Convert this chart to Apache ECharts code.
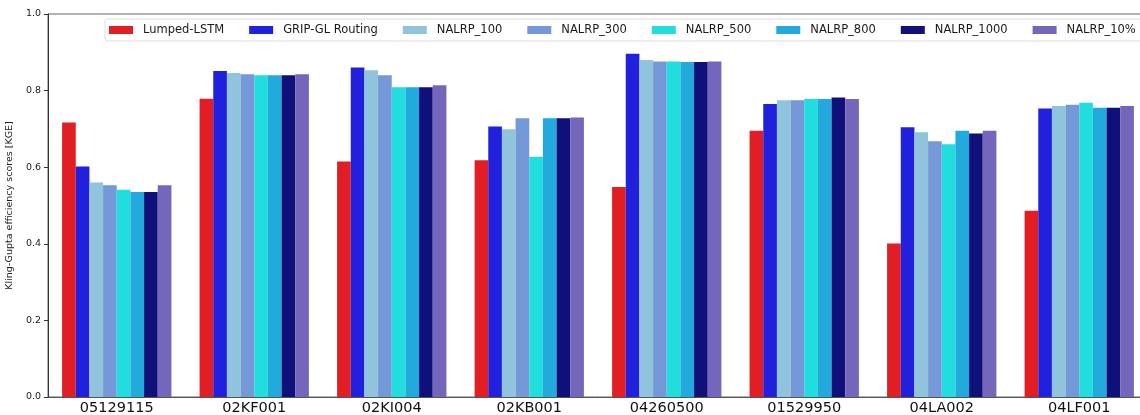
<!DOCTYPE html>
<html>
<head>
<meta charset="utf-8">
<script src="https://cdn.jsdelivr.net/npm/echarts@6/dist/echarts.min.js"></script>
<style>
html,body{margin:0;padding:0;background:#fff;}
#chart{width:1140px;height:415px;}
</style>
</head>
<body>
<div id="chart"></div>
<script>
var categories = ['05129115','02KF001','02KI004','02KB001','04260500','01529950','04LA002','04LF001'];
var seriesNames = ['Lumped-LSTM','GRIP-GL Routing','NALRP_100','NALRP_300','NALRP_500','NALRP_800','NALRP_1000','NALRP_10%'];
var lumpedLSTM = [0.717, 0.779, 0.615, 0.618, 0.548, 0.695, 0.401, 0.486];
var gripGL     = [0.602, 0.851, 0.860, 0.706, 0.896, 0.765, 0.704, 0.753];
var nalrp100   = [0.560, 0.846, 0.853, 0.699, 0.880, 0.775, 0.691, 0.760];
var nalrp300   = [0.553, 0.843, 0.840, 0.728, 0.876, 0.775, 0.668, 0.763];
var nalrp500   = [0.541, 0.840, 0.809, 0.627, 0.876, 0.778, 0.660, 0.768];
var nalrp800   = [0.535, 0.840, 0.809, 0.728, 0.875, 0.778, 0.695, 0.755];
var nalrp1000  = [0.535, 0.840, 0.809, 0.728, 0.875, 0.782, 0.688, 0.755];
var nalrp10pct = [0.553, 0.843, 0.814, 0.730, 0.876, 0.778, 0.695, 0.760];
var yTicks = [0.0, 0.2, 0.4, 0.6, 0.8, 1.0];

var allValues = [lumpedLSTM, gripGL, nalrp100, nalrp300, nalrp500, nalrp800, nalrp1000, nalrp10pct];
var colors = ['#e01e24','#2121dd','#90c4dc','#7598d8','#22dddd','#22aadd','#10107a','#7466bb'];
var font = 'DejaVu Sans';

var series = seriesNames.map(function(n, i){
  return {
    name: n,
    type: 'bar',
    data: allValues[i],
    itemStyle: {color: colors[i]},
    barGap: '0%',
    barCategoryGap: '20.5%',
    animation: false
  };
});

var chart = echarts.init(document.getElementById('chart'), null, {renderer:'canvas'});
chart.setOption({
  animation: false,
  color: colors,
  textStyle: {fontFamily: font},
  grid: {left: 48, top: 14, width: 1100, bottom: 18, show: true, borderColor: '#666', borderWidth: 1,
         backgroundColor: 'transparent', containLabel: false, outerBoundsMode: 'none'},
  legend: {
    data: seriesNames,
    left: 105, top: 19, width: 1100,
    itemWidth: 24, itemHeight: 8, itemGap: 25,
    padding: [5, 12, 5, 4],
    backgroundColor: '#fff',
    borderColor: '#dddddd', borderWidth: 1, borderRadius: 2,
    icon: 'rect',
    textStyle: {fontFamily: font, fontSize: 11.5, color: '#1a1a1a', padding: [0,0,0,5]}
  },
  xAxis: {
    type: 'category',
    data: categories,
    axisLine: {lineStyle: {color: '#555', width: 1}},
    axisTick: {alignWithLabel: true, length: 4, lineStyle: {color: '#555'}},
    axisLabel: {fontFamily: font, fontSize: 14.5, color: '#111', margin: 4}
  },
  yAxis: {
    type: 'value',
    min: 0, max: 1, interval: 0.2,
    name: 'Kling-Gupta efficiency scores [KGE]',
    nameLocation: 'middle', nameRotate: 90, nameGap: 33,
    nameTextStyle: {fontFamily: font, fontSize: 9.5, color: '#1a1a1a'},
    axisLine: {show: true, lineStyle: {color: '#333', width: 1}},
    axisTick: {show: true, length: 4, lineStyle: {color: '#333'}},
    splitLine: {show: false},
    axisLabel: {fontFamily: font, fontSize: 9.5, color: '#1a1a1a', margin: 7,
      formatter: function(v){ return v.toFixed(1); }}
  },
  series: series
});
</script>
</body>
</html>
